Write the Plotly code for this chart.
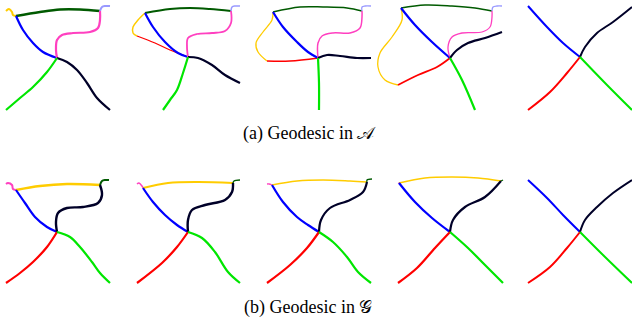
import plotly.graph_objects as go

# ---- colours per curve role ----
BLUE = "#0000ff"; GREEN = "#00e600"; RED = "#ff0000"; NAVY = "#000028"
DKGREEN = "#005a00"; PINK = "#ff40c0"; YELLOW = "#ffcc00"; LILAC = "#9999ff"

# ---- panel (a): geodesic in A  (pixel space) ----
a1_yellow = [(6,11),(9,9),(12,12),(13,15),(16,16)]
a1_dkgreen = [(16,16),(40,12),(60,9.5),(80,9.5),(100,11)]
a1_lilac = [(100,11),(102,7),(105,6),(110,6)]
a1_blue = [(16,16),(23,30),(33,43),(43,52),(57,58)]
a1_pink = [(57,58),(56,50),(57,40),(62,35),(73,33),(90,32),(98,28),(100,20),(100,11)]
a1_navy = [(57,58),(67,62),(77,70),(87,83),(97,98),(110,110)]
a1_green = [(57,58),(47,72),(33,87),(20,98),(6,110)]

a2_dkgreen = [(145,13),(170,9),(190,8),(210,9),(231,11)]
a2_lilac = [(231,11),(232,7),(235,6),(240,6)]
a2_yellow = [(145,13),(138,20),(133,27),(133,33),(137,36)]
a2_red = [(137,36),(155,43),(170,50),(188,57)]
a2_blue = [(145,13),(153,27),(165,42),(178,53),(188,57)]
a2_pink = [(188,57),(187,47),(188,38),(197,34),(212,33),(225,31),(231,23),(231,11)]
a2_navy = [(188,57),(198,58),(212,65),(225,75),(240,83)]
a2_green = [(188,57),(183,73),(177,90),(170,100),(163,110)]

a3_dkgreen = [(273,12),(300,7),(323,7),(347,8),(362,11)]
a3_lilac = [(362,11),(362,7),(365,6),(371,6)]
a3_yellow = [(273,12),(272,20),(263,32),(256,43),(258,52),(267,61)]
a3_red = [(267,61),(290,61),(318,58)]
a3_blue = [(273,12),(283,27),(297,42),(308,52),(318,58)]
a3_pink = [(318,58),(318,43),(322,36),(333,33),(350,33),(360,28),(362,17),(362,11)]
a3_navy = [(318,58),(327,55),(340,56),(357,58),(371,58)]
a3_green = [(318,58),(319,83),(319,110)]

a4_dkgreen = [(401,8),(425,5),(452,6),(475,8),(492,11)]
a4_lilac = [(492,11),(493,7),(497,6),(502,6)]
a4_yellow = [(401,8),(402,20),(392,37),(380,53),(378,67),(385,80),(398,85)]
a4_red = [(398,85),(418,75),(437,67),(450,58)]
a4_blue = [(401,8),(415,25),(432,42),(450,58)]
a4_pink = [(450,58),(448,47),(452,37),(462,33),(482,32),(490,27),(492,17),(492,11)]
a4_navy = [(450,58),(457,50),(468,43),(485,38),(502,32)]
a4_green = [(450,58),(462,80),(475,110)]

a5_blue = [(528,6),(547,27),(563,43),(580,57)]
a5_navy = [(580,57),(585,47),(597,33),(613,22),(632,7)]
a5_red = [(580,57),(567,73),(550,92),(528,110)]
a5_green = [(580,57),(607,85),(632,110)]

# ---- panel (b): geodesic in G ----
b1_pink = [(6,184),(8,183),(12,185),(13,189),(16,190)]
b1_yellow = [(16,190),(40,186),(67,184),(100,185)]
b1_dkgreen = [(100,185),(102,181),(105,180),(109,180)]
b1_blue = [(16,190),(25,203),(35,217),(47,227),(57,232)]
b1_navy = [(57,232),(56,222),(58,213),(67,208),(83,207),(98,203),(102,195),(100,185)]
b1_red = [(57,232),(47,247),(33,262),(20,273),(6,283)]
b1_green = [(57,232),(70,237),(80,247),(92,262),(100,273),(110,283)]

b2_pink = [(137,184),(139,183),(142,186),(143,188)]
b2_yellow = [(143,188),(168,183),(198,182),(233,183)]
b2_dkgreen = [(233,183),(234,181),(240,180)]
b2_blue = [(143,188),(153,202),(165,215),(177,225),(188,232)]
b2_navy = [(188,232),(188,220),(192,210),(205,205),(225,200),(232,192),(233,183)]
b2_red = [(188,232),(177,247),(162,263),(137,283)]
b2_green = [(188,232),(202,238),(215,252),(228,272),(240,283)]

b3_pink = [(267,184),(269,184),(272,185)]
b3_yellow = [(272,185),(297,181),(323,180),(350,181),(367,182)]
b3_dkgreen = [(367,182),(367,180),(372,179)]
b3_blue = [(272,185),(283,202),(297,217),(308,225),(319,232)]
b3_navy = [(319,232),(321,220),(330,208),(350,200),(363,192),(367,182)]
b3_red = [(319,232),(307,248),(290,265),(267,283)]
b3_green = [(319,232),(333,242),(347,257),(358,272),(371,283)]

b4_pink = [(398,183),(401,184)]
b4_yellow = [(399,183),(425,178),(452,177),(478,178),(501,181)]
b4_dkgreen = [(501,181),(503,180)]
b4_blue = [(399,183),(415,202),(432,218),(450,232)]
b4_navy = [(450,232),(453,220),(465,207),(485,197),(501,181)]
b4_red = [(450,232),(435,248),(417,268),(398,283)]
b4_green = [(450,232),(468,248),(485,265),(503,283)]

b5_blue = [(528,180),(547,198),(563,215),(580,232)]
b5_navy = [(580,232),(585,220),(597,207),(613,193),(632,180)]
b5_red = [(580,232),(567,248),(550,267),(528,283)]
b5_green = [(580,232),(603,255),(632,283)]

captions = ["(a) Geodesic in 𝒜", "(b) Geodesic in 𝒢"]
caption_pos = [(241, 133), (242, 307)]

curves = [
    (a1_yellow, YELLOW, 2), (a1_dkgreen, DKGREEN, 2.5), (a1_lilac, LILAC, 2), (a1_blue, BLUE, 2.2),
    (a1_pink, PINK, 2.2), (a1_navy, NAVY, 2.2), (a1_green, GREEN, 2.2),
    (a2_dkgreen, DKGREEN, 2), (a2_lilac, LILAC, 1.5), (a2_yellow, YELLOW, 1.5), (a2_red, RED, 1.3),
    (a2_blue, BLUE, 2.2), (a2_pink, PINK, 1.8), (a2_navy, NAVY, 2.2), (a2_green, GREEN, 2.2),
    (a3_dkgreen, DKGREEN, 1.5), (a3_lilac, LILAC, 1.3), (a3_yellow, YELLOW, 1.3), (a3_red, RED, 1.5),
    (a3_blue, BLUE, 2.2), (a3_pink, PINK, 1.5), (a3_navy, NAVY, 2.2), (a3_green, GREEN, 2.2),
    (a4_dkgreen, DKGREEN, 1.5), (a4_lilac, LILAC, 1.3), (a4_yellow, YELLOW, 1.3), (a4_red, RED, 1.8),
    (a4_blue, BLUE, 2.2), (a4_pink, PINK, 1.3), (a4_navy, NAVY, 2.2), (a4_green, GREEN, 2.2),
    (a5_blue, BLUE, 2), (a5_navy, NAVY, 2), (a5_red, RED, 2), (a5_green, GREEN, 2),
    (b1_pink, PINK, 2), (b1_yellow, YELLOW, 2.5), (b1_dkgreen, DKGREEN, 2), (b1_blue, BLUE, 2.2),
    (b1_navy, NAVY, 2.4), (b1_red, RED, 2.2), (b1_green, GREEN, 2.2),
    (b2_pink, PINK, 1.5), (b2_yellow, YELLOW, 2.2), (b2_dkgreen, DKGREEN, 1.5), (b2_blue, BLUE, 2.2),
    (b2_navy, NAVY, 2.4), (b2_red, RED, 2.2), (b2_green, GREEN, 2.2),
    (b3_pink, PINK, 1.3), (b3_yellow, YELLOW, 1.5), (b3_dkgreen, DKGREEN, 1.3), (b3_blue, BLUE, 2.2),
    (b3_navy, NAVY, 2.2), (b3_red, RED, 2.2), (b3_green, GREEN, 2.2),
    (b4_pink, PINK, 1.3), (b4_yellow, YELLOW, 1.5), (b4_dkgreen, DKGREEN, 1.3), (b4_blue, BLUE, 2.2),
    (b4_navy, NAVY, 2.2), (b4_red, RED, 2.2), (b4_green, GREEN, 2.2),
    (b5_blue, BLUE, 2), (b5_navy, NAVY, 2), (b5_red, RED, 2), (b5_green, GREEN, 2),
]

fig = go.Figure()
for pts, col, w in curves:
    fig.add_trace(go.Scatter(
        x=[p[0] for p in pts], y=[p[1] for p in pts], mode="lines",
        line=dict(color=col, width=w, shape="spline", smoothing=1.0),
        hoverinfo="skip", showlegend=False))

for txt, (cx, cy) in zip(captions, caption_pos):
    fig.add_annotation(x=cx, y=cy, text=txt, showarrow=False, xanchor="left", yanchor="middle",
                       font=dict(family="Liberation Serif, DejaVu Serif, serif", size=18, color="#000000"))

fig.update_layout(
    width=632, height=324, margin=dict(l=0, r=0, t=0, b=0),
    paper_bgcolor="white", plot_bgcolor="white",
    xaxis=dict(range=[0, 632], visible=False, fixedrange=True),
    yaxis=dict(range=[324, 0], visible=False, fixedrange=True),
)
fig.write_html("out.html", config={"displayModeBar": False},
               post_script="document.body.style.margin='0';document.body.style.overflow='hidden';")
